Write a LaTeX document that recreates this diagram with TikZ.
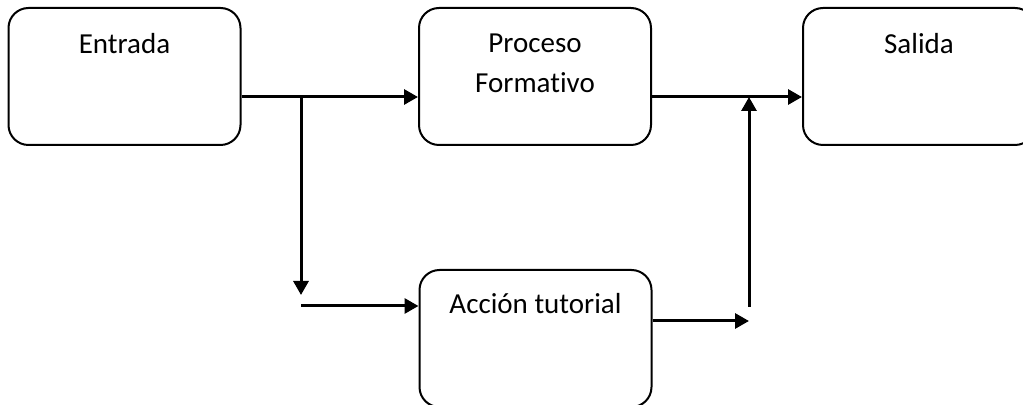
\documentclass[tikz,border=0pt]{standalone}
\usepackage{fontspec}
\setmainfont{Carlito}[Ligatures=NoCommon]
\usetikzlibrary{arrows.meta}

\tikzset{
    caja/.style={draw, line width=1pt, rounded corners=10pt,
        minimum width=116pt, minimum height=68.5pt, inner sep=0pt},
    flujo/.style={line width=1.5pt, -{Triangle[length=7pt,width=7.5pt]}},
    tramo/.style={line width=1.5pt}
}

\begin{document}
\begin{tikzpicture}[x=0.5pt, y=-0.5pt, font=\fontsize{14.5}{20}\selectfont]

\useasboundingbox (0,0) rectangle (1023,405);
\clip (0,0) rectangle (1023,405);

% Cajas
\node[caja, label={[anchor=base, yshift=-23.5pt, align=center]north:Entrada}]
    (entrada) at (124.5,76.5) {};
\node[caja, label={[anchor=base, yshift=-43pt, align=center]north:Proceso\\Formativo}]
    (proceso) at (535,76.5) {};
\node[caja, label={[anchor=base, yshift=-23.5pt, align=center]north:Salida}]
    (salida) at (919,76.5) {};
\node[caja, label={[anchor=base, yshift=-22.5pt, align=center]north:Acción tutorial}]
    (accion) at (535.5,338.5) {};

% Puntos de paso
\coordinate (reparto) at (301,97);
\coordinate (bajada) at (301,295);
\coordinate (desvio) at (301,306);
\coordinate (retorno) at (749,321);
\coordinate (subida) at (749,307);
\coordinate (union) at (749,97);

% Conexiones
\draw[flujo] (entrada.east |- reparto) -- (proceso.west |- reparto);
\draw[flujo] (reparto) -- (bajada);
\draw[flujo] (desvio) -- (accion.west |- desvio);
\draw[flujo] (accion.east |- retorno) -- (retorno);
\draw[flujo] (subida) -- (union);
\draw[flujo] (proceso.east |- union) -- (salida.west |- union);

\end{tikzpicture}
\end{document}
